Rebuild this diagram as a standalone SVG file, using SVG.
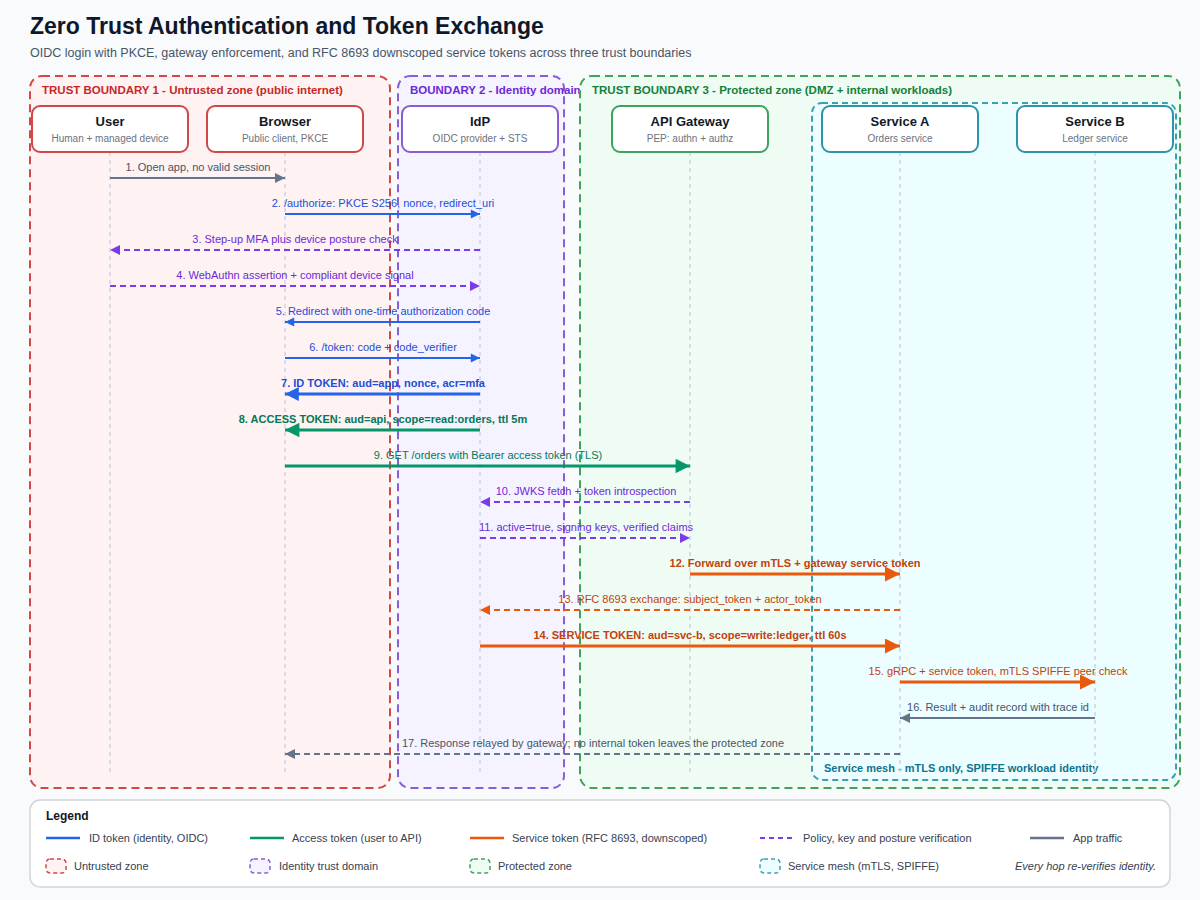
<svg xmlns="http://www.w3.org/2000/svg" width="1200" height="900" viewBox="0 0 1200 900">
<style>
text{font-family:"Liberation Sans",Arial,sans-serif}
.title{font-size:23px;font-weight:700;fill:#0f172a}
.sub{font-size:12.5px;fill:#475569}
.blabel{font-size:11.5px;font-weight:700}
.ntitle{font-size:13px;font-weight:700;fill:#111827;text-anchor:middle}
.nsub{font-size:10px;fill:#6b7280;text-anchor:middle}
.node{fill:#ffffff;stroke-width:2}
.life{stroke:#cbd5e1;stroke-width:1.5;stroke-dasharray:4 4;fill:none}
.m{font-size:11px;text-anchor:middle}
.mb{font-size:11px;text-anchor:middle;font-weight:700}
.ln{fill:none}
.dash{stroke-dasharray:6 4}
.leg{font-size:11px;fill:#374151}
</style>
<defs>
<marker id="aBlue" viewBox="0 0 10 10" refX="10" refY="5" markerWidth="5.5" markerHeight="4.6" markerUnits="strokeWidth" orient="auto"><path d="M0,0L10,5L0,10z" fill="#2563eb"/></marker>
<marker id="aGreen" viewBox="0 0 10 10" refX="10" refY="5" markerWidth="5.5" markerHeight="4.8" markerUnits="strokeWidth" orient="auto"><path d="M0,0L10,5L0,10z" fill="#059669"/></marker>
<marker id="aOrange" viewBox="0 0 10 10" refX="10" refY="5" markerWidth="5.5" markerHeight="5" markerUnits="strokeWidth" orient="auto"><path d="M0,0L10,5L0,10z" fill="#ea580c"/></marker>
<marker id="aPurple" viewBox="0 0 10 10" refX="10" refY="5" markerWidth="5.5" markerHeight="5" markerUnits="strokeWidth" orient="auto"><path d="M0,0L10,5L0,10z" fill="#7c3aed"/></marker>
<marker id="aGray" viewBox="0 0 10 10" refX="10" refY="5" markerWidth="5.5" markerHeight="5" markerUnits="strokeWidth" orient="auto"><path d="M0,0L10,5L0,10z" fill="#64748b"/></marker>
</defs>
<rect x="0" y="0" width="1200" height="900" fill="#f8fafc"/>
<text class="title" x="30" y="34">Zero Trust Authentication and Token Exchange</text>
<text class="sub" x="30" y="57">OIDC login with PKCE, gateway enforcement, and RFC 8693 downscoped service tokens across three trust boundaries</text>

<g id="boundaries">
<rect x="30" y="76" width="360" height="712" rx="12" fill="#fef2f2" stroke="#d04848" stroke-width="2" stroke-dasharray="8 5"/>
<text class="blabel" x="42" y="94" fill="#c62828">TRUST BOUNDARY 1 - Untrusted zone (public internet)</text>
<rect x="398" y="76" width="166" height="712" rx="12" fill="#f5f3ff" stroke="#8a5cd6" stroke-width="2" stroke-dasharray="8 5"/>
<text class="blabel" x="410" y="94" fill="#6d28d9">BOUNDARY 2 - Identity domain</text>
<rect x="580" y="76" width="600" height="712" rx="12" fill="#effcf3" stroke="#3da35d" stroke-width="2" stroke-dasharray="8 5"/>
<text class="blabel" x="592" y="94" fill="#15803d">TRUST BOUNDARY 3 - Protected zone (DMZ + internal workloads)</text>
<rect x="812" y="103" width="364" height="677" rx="10" fill="#ecfeff" stroke="#3aa0b4" stroke-width="2" stroke-dasharray="6 4"/>
<text x="824" y="772" font-size="11" font-weight="700" fill="#0e7490">Service mesh - mTLS only, SPIFFE workload identity</text>
</g>

<g id="lifelines">
<line class="life" x1="110" y1="152" x2="110" y2="772"/>
<line class="life" x1="285" y1="152" x2="285" y2="772"/>
<line class="life" x1="480" y1="152" x2="480" y2="772"/>
<line class="life" x1="690" y1="152" x2="690" y2="772"/>
<line class="life" x1="900" y1="152" x2="900" y2="772"/>
<line class="life" x1="1095" y1="152" x2="1095" y2="772"/>
</g>

<g id="user"><rect class="node" x="32" y="106" width="156" height="46" rx="8" stroke="#d04848"/><text class="ntitle" x="110" y="126">User</text><text class="nsub" x="110" y="142">Human + managed device</text></g>
<g id="browser"><rect class="node" x="207" y="106" width="156" height="46" rx="8" stroke="#d04848"/><text class="ntitle" x="285" y="126">Browser</text><text class="nsub" x="285" y="142">Public client, PKCE</text></g>
<g id="idp"><rect class="node" x="402" y="106" width="156" height="46" rx="8" stroke="#8a5cd6"/><text class="ntitle" x="480" y="126">IdP</text><text class="nsub" x="480" y="142">OIDC provider + STS</text></g>
<g id="gateway"><rect class="node" x="612" y="106" width="156" height="46" rx="8" stroke="#3da35d"/><text class="ntitle" x="690" y="126">API Gateway</text><text class="nsub" x="690" y="142">PEP: authn + authz</text></g>
<g id="serviceA"><rect class="node" x="822" y="106" width="156" height="46" rx="8" stroke="#2e94a8"/><text class="ntitle" x="900" y="126">Service A</text><text class="nsub" x="900" y="142">Orders service</text></g>
<g id="serviceB"><rect class="node" x="1017" y="106" width="156" height="46" rx="8" stroke="#2e94a8"/><text class="ntitle" x="1095" y="126">Service B</text><text class="nsub" x="1095" y="142">Ledger service</text></g>

<g id="connectors">
<line class="ln" x1="110" y1="178" x2="285" y2="178" stroke="#64748b" stroke-width="2" marker-end="url(#aGray)"/>
<text class="m" x="198" y="171" fill="#475569">1. Open app, no valid session</text>

<line class="ln" x1="285" y1="214" x2="480" y2="214" stroke="#2563eb" stroke-width="2" marker-end="url(#aBlue)"/>
<text class="m" x="383" y="207" fill="#1d4ed8">2. /authorize: PKCE S256, nonce, redirect_uri</text>

<line class="ln dash" x1="480" y1="250" x2="110" y2="250" stroke="#7c3aed" stroke-width="2" marker-end="url(#aPurple)"/>
<text class="m" x="295" y="243" fill="#6d28d9">3. Step-up MFA plus device posture check</text>

<line class="ln dash" x1="110" y1="286" x2="480" y2="286" stroke="#7c3aed" stroke-width="2" marker-end="url(#aPurple)"/>
<text class="m" x="295" y="279" fill="#6d28d9">4. WebAuthn assertion + compliant device signal</text>

<line class="ln" x1="480" y1="322" x2="285" y2="322" stroke="#2563eb" stroke-width="2" marker-end="url(#aBlue)"/>
<text class="m" x="383" y="315" fill="#1d4ed8">5. Redirect with one-time authorization code</text>

<line class="ln" x1="285" y1="358" x2="480" y2="358" stroke="#2563eb" stroke-width="2" marker-end="url(#aBlue)"/>
<text class="m" x="383" y="351" fill="#1d4ed8">6. /token: code + code_verifier</text>

<line class="ln" x1="480" y1="394" x2="285" y2="394" stroke="#2563eb" stroke-width="3" marker-end="url(#aBlue)"/>
<text class="mb" x="383" y="387" fill="#1d4ed8">7. ID TOKEN: aud=app, nonce, acr=mfa</text>

<line class="ln" x1="480" y1="430" x2="285" y2="430" stroke="#059669" stroke-width="3" marker-end="url(#aGreen)"/>
<text class="mb" x="383" y="423" fill="#047857">8. ACCESS TOKEN: aud=api, scope=read:orders, ttl 5m</text>

<line class="ln" x1="285" y1="466" x2="690" y2="466" stroke="#059669" stroke-width="3" marker-end="url(#aGreen)"/>
<text class="m" x="488" y="459" fill="#047857">9. GET /orders with Bearer access token (TLS)</text>

<line class="ln dash" x1="690" y1="502" x2="480" y2="502" stroke="#7c3aed" stroke-width="2" marker-end="url(#aPurple)"/>
<text class="m" x="586" y="495" fill="#6d28d9">10. JWKS fetch + token introspection</text>

<line class="ln dash" x1="480" y1="538" x2="690" y2="538" stroke="#7c3aed" stroke-width="2" marker-end="url(#aPurple)"/>
<text class="m" x="586" y="531" fill="#6d28d9">11. active=true, signing keys, verified claims</text>

<line class="ln" x1="690" y1="574" x2="900" y2="574" stroke="#ea580c" stroke-width="3" marker-end="url(#aOrange)"/>
<text class="mb" x="795" y="567" fill="#c2410c">12. Forward over mTLS + gateway service token</text>

<line class="ln dash" x1="900" y1="610" x2="480" y2="610" stroke="#ea580c" stroke-width="2" marker-end="url(#aOrange)"/>
<text class="m" x="690" y="603" fill="#c2410c">13. RFC 8693 exchange: subject_token + actor_token</text>

<line class="ln" x1="480" y1="646" x2="900" y2="646" stroke="#ea580c" stroke-width="3" marker-end="url(#aOrange)"/>
<text class="mb" x="690" y="639" fill="#c2410c">14. SERVICE TOKEN: aud=svc-b, scope=write:ledger, ttl 60s</text>

<line class="ln" x1="900" y1="682" x2="1095" y2="682" stroke="#ea580c" stroke-width="3" marker-end="url(#aOrange)"/>
<text class="m" x="998" y="675" fill="#c2410c">15. gRPC + service token, mTLS SPIFFE peer check</text>

<line class="ln" x1="1095" y1="718" x2="900" y2="718" stroke="#64748b" stroke-width="2" marker-end="url(#aGray)"/>
<text class="m" x="998" y="711" fill="#475569">16. Result + audit record with trace id</text>

<line class="ln dash" x1="900" y1="754" x2="285" y2="754" stroke="#64748b" stroke-width="2" marker-end="url(#aGray)"/>
<text class="m" x="593" y="747" fill="#475569">17. Response relayed by gateway; no internal token leaves the protected zone</text>
</g>

<g id="legend">
<rect x="30" y="800" width="1140" height="87" rx="10" fill="#ffffff" stroke="#d1d5db" stroke-width="1.5"/>
<text x="46" y="820" font-size="12" font-weight="700" fill="#111827">Legend</text>
<line x1="46" y1="838" x2="80" y2="838" stroke="#2563eb" stroke-width="2.5"/>
<text class="leg" x="89" y="842">ID token (identity, OIDC)</text>
<line x1="250" y1="838" x2="284" y2="838" stroke="#059669" stroke-width="2.5"/>
<text class="leg" x="292" y="842">Access token (user to API)</text>
<line x1="470" y1="838" x2="504" y2="838" stroke="#ea580c" stroke-width="2.5"/>
<text class="leg" x="512" y="842">Service token (RFC 8693, downscoped)</text>
<line x1="760" y1="838" x2="794" y2="838" stroke="#7c3aed" stroke-width="2" stroke-dasharray="5 4"/>
<text class="leg" x="803" y="842">Policy, key and posture verification</text>
<line x1="1030" y1="838" x2="1064" y2="838" stroke="#64748b" stroke-width="2.5"/>
<text class="leg" x="1073" y="842">App traffic</text>
<rect x="46" y="859" width="20" height="14" rx="4" fill="#fef2f2" stroke="#d04848" stroke-width="1.5" stroke-dasharray="4 3"/>
<text class="leg" x="74" y="870">Untrusted zone</text>
<rect x="250" y="859" width="20" height="14" rx="4" fill="#f5f3ff" stroke="#8a5cd6" stroke-width="1.5" stroke-dasharray="4 3"/>
<text class="leg" x="279" y="870">Identity trust domain</text>
<rect x="470" y="859" width="20" height="14" rx="4" fill="#effcf3" stroke="#3da35d" stroke-width="1.5" stroke-dasharray="4 3"/>
<text class="leg" x="498" y="870">Protected zone</text>
<rect x="760" y="859" width="20" height="14" rx="4" fill="#ecfeff" stroke="#3aa0b4" stroke-width="1.5" stroke-dasharray="4 3"/>
<text class="leg" x="788" y="870">Service mesh (mTLS, SPIFFE)</text>
<text class="leg" x="1156" y="870" text-anchor="end" font-style="italic" fill="#4b5563">Every hop re-verifies identity.</text>
</g>
</svg>
